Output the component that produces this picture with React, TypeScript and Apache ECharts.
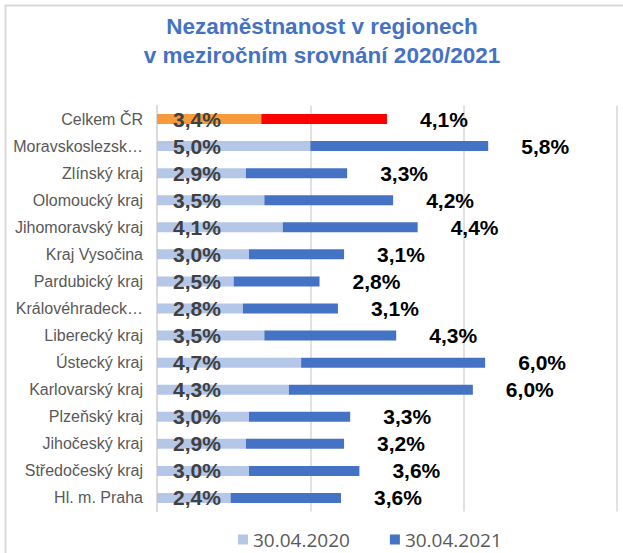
import React, { useEffect, useRef } from "react";
import * as echarts from "echarts";

const categories = [
  "Celkem ČR",
  "Moravskoslezský kraj",
  "Zlínský kraj",
  "Olomoucký kraj",
  "Jihomoravský kraj",
  "Kraj Vysočina",
  "Pardubický kraj",
  "Královéhradecký kraj",
  "Liberecký kraj",
  "Ústecký kraj",
  "Karlovarský kraj",
  "Plzeňský kraj",
  "Jihočeský kraj",
  "Středočeský kraj",
  "Hl. m. Praha",
];
const values2020 = [3.4, 5.0, 2.9, 3.5, 4.1, 3.0, 2.5, 2.8, 3.5, 4.7, 4.3, 3.0, 2.9, 3.0, 2.4];
const values2021 = [4.1, 5.8, 3.3, 4.2, 4.4, 3.1, 2.8, 3.1, 4.3, 6.0, 6.0, 3.3, 3.2, 3.6, 3.6];
const seriesNames = ["30.04.2020", "30.04.2021"];
const titleText = "Nezaměstnanost v regionech\nv meziročním srovnání 2020/2021";

const fmt = (v: number) => v.toFixed(1).replace(".", ",") + "%";

export default function App() {
  const ref = useRef<HTMLDivElement>(null);
  useEffect(() => {
    if (!ref.current) return;
    const chart = echarts.init(ref.current, null, { renderer: "svg" });
    chart.setOption({
      animation: false,
      textStyle: { fontFamily: "Liberation Sans, Arial, sans-serif" },
      title: {
        text: titleText,
        left: 317,
        top: 7,
        textAlign: "center",
        textStyle: {
          fontSize: 22.5,
          fontWeight: "bold",
          color: "#4472C4",
          lineHeight: 29,
          fontFamily: "Liberation Sans, Arial, sans-serif",
        },
      },
      graphic: [
        {
          type: "rect",
          shape: { x: 5.5, y: 5.5, width: 700, height: 700 },
          style: { fill: "none", stroke: "#D9D9D9", lineWidth: 2 },
          silent: true,
        },
      ],
      legend: {
        left: 233,
        bottom: -1,
        itemWidth: 10,
        itemHeight: 10,
        itemGap: 40,
        icon: "rect",
        textStyle: { fontSize: 19, color: "#595959", fontFamily: "Open Sans, sans-serif" },
        data: seriesNames,
      },
      grid: { left: 157, right: 6, top: 105.5, bottom: 41.5, containLabel: false },
      xAxis: {
        type: "value",
        min: 0,
        max: 15,
        interval: 5,
        axisLabel: { show: false },
        axisLine: { show: false },
        axisTick: { show: false },
        splitLine: { show: true, lineStyle: { color: "#D9D9D9", width: 1.5 } },
      },
      yAxis: {
        type: "category",
        inverse: true,
        data: categories,
        axisLine: { show: true, lineStyle: { color: "#D9D9D9", width: 1.5 } },
        axisTick: { show: false },
        axisLabel: {
          color: "#595959",
          fontSize: 16,
          margin: 14,
          width: 135,
          overflow: "truncate",
          ellipsis: "…",
        },
      },
      series: [
        {
          name: seriesNames[0],
          type: "bar",
          stack: "total",
          barWidth: 10,
          itemStyle: { color: "#B4C7E7" },
          data: values2020.map((v, i) =>
            i === 0 ? { value: v, itemStyle: { color: "#F79A3B" } } : v
          ),
          label: {
            show: true,
            position: "insideLeft",
            distance: 16,
            formatter: (p: any) => fmt(p.value),
            fontSize: 21,
            fontWeight: "bold",
            color: "#404040",
          },
        },
        {
          name: seriesNames[1],
          type: "bar",
          stack: "total",
          barWidth: 10,
          itemStyle: { color: "#4472C4" },
          data: values2021.map((v, i) =>
            i === 0 ? { value: v, itemStyle: { color: "#FF0000" } } : v
          ),
          label: {
            show: true,
            position: "right",
            distance: 33,
            formatter: (p: any) => fmt(p.value),
            fontSize: 21,
            fontWeight: "bold",
            color: "#000000",
          },
        },
      ],
    });
    return () => chart.dispose();
  }, []);
  return (
    <div
      ref={ref}
      style={{ position: "fixed", left: 0, top: 0, width: 623, height: 553, background: "#fff" }}
    />
  );
}
